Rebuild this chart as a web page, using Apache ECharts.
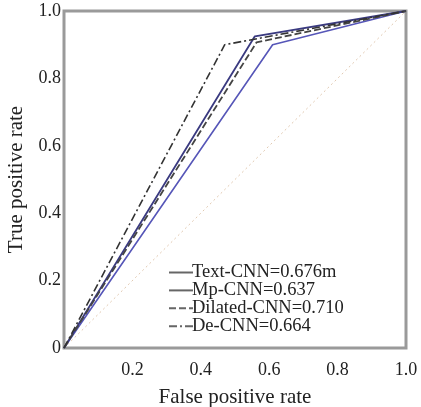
<!DOCTYPE html>
<html><head><meta charset="utf-8">
<script src="https://cdn.jsdelivr.net/npm/echarts@6/dist/echarts.min.js"></script>
<style>html,body{margin:0;padding:0;background:#fff}#c{width:421px;height:407px}</style>
</head><body><div id="c"></div>
<script>
const xTicks = [0, 0.2, 0.4, 0.6, 0.8, 1.0];
const yTicks = [0, 0.2, 0.4, 0.6, 0.8, 1.0];
const seriesNames = ['Text-CNN=0.676m', 'Mp-CNN=0.637', 'Dilated-CNN=0.710', 'De-CNN=0.664'];
const textCNN = [[0, 0], [0.61, 0.90], [1, 1]];
const mpCNN = [[0, 0], [0.558, 0.925], [1, 1]];
const dilatedCNN = [[0, 0], [0.563, 0.907], [1, 1]];
const deCNN = [[0, 0], [0.47, 0.90], [1, 1]];
const diagonal = [[0, 0], [1, 1]];

const font = "'Liberation Serif', 'DejaVu Serif', serif";
const colors = ['#5656b8', '#3a3a80', '#444444', '#333333'];
const chart = echarts.init(document.getElementById('c'));
chart.setOption({
  animation: false,
  textStyle: { fontFamily: font },
  grid: { left: 64, right: 15, top: 11, bottom: 59, show: true, borderColor: '#9a9a9a', borderWidth: 3,
    containLabel: false, outerBoundsMode: 'none' },
  xAxis: {
    type: 'value', min: 0, max: 1, interval: 0.2,
    name: 'False positive rate', nameLocation: 'middle', nameGap: 39, nameMoveOverlap: false,
    nameTextStyle: { fontFamily: font, fontSize: 21, color: '#222' },
    axisLine: { show: false }, axisTick: { show: false }, splitLine: { show: false },
    axisLabel: { fontFamily: font, fontSize: 18, color: '#222', margin: 13,
      formatter: v => (v === 0 ? '' : v.toFixed(1)) }
  },
  yAxis: {
    type: 'value', min: 0, max: 1, interval: 0.2,
    name: 'True positive rate', nameLocation: 'middle', nameGap: 37, nameMoveOverlap: false,
    nameTextStyle: { fontFamily: font, fontSize: 21, color: '#222' },
    axisLine: { show: false }, axisTick: { show: false }, splitLine: { show: false },
    axisLabel: { fontFamily: font, fontSize: 18, color: '#222', margin: 3,
      formatter: v => (v === 0 ? '0' : v.toFixed(1)) }
  },
  legend: {
    left: 163, top: 258, orient: 'vertical', itemGap: -1.1, itemWidth: 24, itemHeight: 17,
    itemStyle: { opacity: 0 },
    textStyle: { fontFamily: font, fontSize: 18.5, lineHeight: 17, color: '#222', padding: [0, 0, 0, -6] },
    data: seriesNames.map(function (n, i) {
      return { name: n, lineStyle: { color: '#666666', width: 2 } };
    })
  },
  series: [
    { name: 'diag', type: 'line', data: diagonal, symbol: 'none', silent: true,
      lineStyle: { color: '#e0c8b0', width: 1, type: [2, 3] }, z: 1 },
    { name: seriesNames[0], type: 'line', data: textCNN, symbol: 'none', color: colors[0],
      lineStyle: { color: colors[0], width: 1.6, type: 'solid' } },
    { name: seriesNames[1], type: 'line', data: mpCNN, symbol: 'none', color: colors[1],
      lineStyle: { color: colors[1], width: 1.8, type: 'solid' } },
    { name: seriesNames[2], type: 'line', data: dilatedCNN, symbol: 'none', color: colors[2],
      lineStyle: { color: colors[2], width: 1.8, type: [7, 3] } },
    { name: seriesNames[3], type: 'line', data: deCNN, symbol: 'none', color: colors[3],
      lineStyle: { color: colors[3], width: 1.6, type: [8, 3, 2, 3] } }
  ]
});
</script></body></html>
